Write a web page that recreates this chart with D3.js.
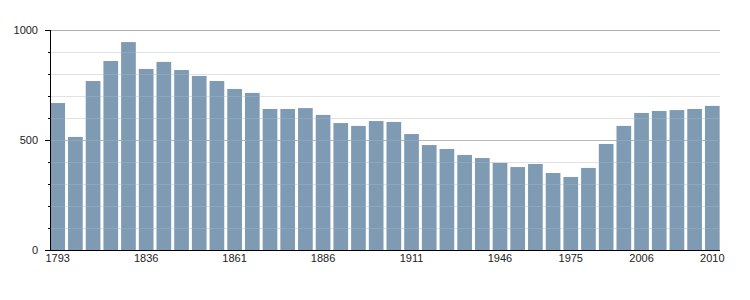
<!DOCTYPE html>
<html>
<head>
<meta charset="utf-8">
<script src="https://cdn.jsdelivr.net/npm/d3@7"></script>
<style>
  body { margin: 0; background: #fff; }
  text { font-family: "Liberation Sans", Arial, sans-serif; font-size: 11px; fill: #222; }
</style>
</head>
<body>
<script>
// census years and population
var years = [1793, 1800, 1806, 1821, 1831, 1836, 1841, 1846, 1851, 1856,
    1861, 1866, 1872, 1876, 1881, 1886, 1891, 1896, 1901, 1906,
    1911, 1921, 1926, 1931, 1936, 1946, 1954, 1962, 1968, 1975,
    1982, 1990, 1999, 2006, 2007, 2008, 2009, 2010];
var population = [668, 514, 768, 859, 945, 823, 855, 818, 791, 768,
    732, 714, 641, 641, 645, 614, 577, 564, 586, 582,
    527, 477, 459, 432, 418, 396, 377, 391, 350, 332,
    373, 482, 564, 623, 632, 636, 641, 655];
var labelYears = [1793, 1836, 1861, 1886, 1911, 1946, 1975, 2006, 2010];
var majorTicks = [0, 500, 1000];

var width = 750,
    height = 300;
// note: "top" clashes with window.top
var mLeft = 50, mRight = 720, mTop = 30, mBottom = 250;

var svg = d3.select("body").append("svg")
    .attr("width", width)
    .attr("height", height);

var x = d3.scaleBand()
    .domain(years)
    .range([mLeft, mRight])
    .paddingInner(0.17)
    .paddingOuter(0.02);

var y = d3.scaleLinear()
    .domain([0, 1000])
    .range([mBottom, mTop]);

var minor = d3.range(100, 1000, 100).filter(d => d % 500 != 0);

// minor grid
svg.selectAll(".grid")
    .data(minor)
    .enter().append("line")
    .attr("x1", mLeft).attr("x2", mRight)
    .attr("y1", d => y(d) + 0.5).attr("y2", d => y(d) + 0.5)
    .attr("stroke", "#dedede");

// major grid
svg.selectAll(".major")
    .data([500, 1000])
    .enter().append("line")
    .attr("x1", mLeft).attr("x2", mRight)
    .attr("y1", d => y(d) + 0.5).attr("y2", d => y(d) + 0.5)
    .attr("stroke", "#b0b0b0");

svg.selectAll(".bar")
    .data(population)
    .enter().append("rect")
    .attr("x", (d, i) => x(years[i]))
    .attr("y", d => y(d))
    .attr("width", x.bandwidth())
    .attr("height", d => y(0) - y(d))
    .attr("fill", "#7f9ab3");

// faint grid through the bars
svg.selectAll(".over")
    .data(minor.concat([500]))
    .enter().append("line")
    .attr("x1", mLeft).attr("x2", mRight)
    .attr("y1", d => y(d) + 0.5).attr("y2", d => y(d) + 0.5)
    .attr("stroke", "#ffffff")
    .attr("stroke-opacity", 0.12);

// y axis
var yAxis = svg.append("g");
yAxis.append("line")
    .attr("x1", mLeft + 0.5).attr("x2", mLeft + 0.5)
    .attr("y1", mTop).attr("y2", mBottom + 1)
    .attr("stroke", "#000");
yAxis.selectAll(".tick")
    .data(d3.range(0, 1001, 100))
    .enter().append("line")
    .attr("x1", d => majorTicks.includes(d) ? mLeft - 5 : mLeft - 2)
    .attr("x2", mLeft)
    .attr("y1", d => y(d) + 0.5).attr("y2", d => y(d) + 0.5)
    .attr("stroke", "#000");
yAxis.selectAll("text")
    .data(majorTicks)
    .enter().append("text")
    .attr("x", 38)
    .attr("y", d => y(d) + 4)
    .attr("text-anchor", "end")
    .text(d => d);

// x axis
svg.append("line")
    .attr("x1", mLeft).attr("x2", mRight)
    .attr("y1", mBottom + 0.5).attr("y2", mBottom + 0.5)
    .attr("stroke", "#000");
svg.selectAll(".xl")
    .data(labelYears)
    .enter().append("text")
    .attr("x", d => x(d) + x.bandwidth() / 2)
    .attr("y", 262)
    .attr("text-anchor", "middle")
    .text(d => d);
</script>
</body>
</html>
